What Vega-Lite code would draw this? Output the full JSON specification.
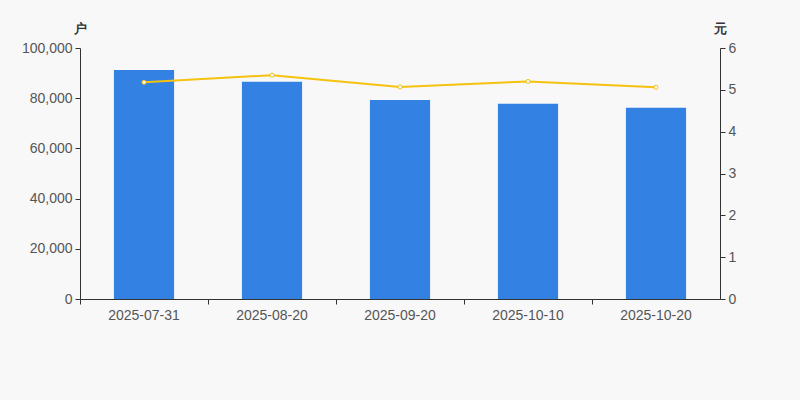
{
  "$schema": "https://vega.github.io/schema/vega-lite/v6.json",
  "width": 640,
  "height": 251,
  "autosize": "none",
  "padding": {"left": 80, "top": 48, "right": 80, "bottom": 101},
  "background": "#f8f8f8",
  "data": {
    "values": [
      {"date": "2025-07-31", "households": 91200, "price": 5.18},
      {"date": "2025-08-20", "households": 86600, "price": 5.35},
      {"date": "2025-09-20", "households": 79300, "price": 5.07},
      {"date": "2025-10-10", "households": 77800, "price": 5.20},
      {"date": "2025-10-20", "households": 76200, "price": 5.06}
    ]
  },
  "encoding": {
    "x": {
      "field": "date",
      "type": "nominal",
      "sort": null,
      "scale": {"paddingInner": 0, "paddingOuter": 0},
      "axis": {
        "title": null,
        "labelAngle": 0,
        "bandPosition": 0,
        "labelPadding": 4,
        "tickSize": 5,
        "domainColor": "#333",
        "tickColor": "#333",
        "labelColor": "#555",
        "labelFontSize": 14
      }
    }
  },
  "layer": [
    {
      "mark": {"type": "bar", "width": {"band": 0.47}, "color": "#3381e3"},
      "encoding": {
        "y": {
          "field": "households",
          "type": "quantitative",
          "scale": {"domain": [0, 100000]},
          "axis": {
            "title": "户",
            "titleAngle": 0,
            "titleX": 0,
            "titleY": -20,
            "titleAlign": "center",
            "titleBaseline": "middle",
            "titleFontSize": 13,
            "titleColor": "#333",
            "values": [0, 20000, 40000, 60000, 80000, 100000],
            "format": ",d",
            "grid": false,
            "tickSize": 5,
            "domainColor": "#333",
            "tickColor": "#333",
            "labelColor": "#555",
            "labelFontSize": 14,
            "labelPadding": 3
          }
        }
      }
    },
    {
      "mark": {
        "type": "line",
        "color": "#f5c20f",
        "strokeWidth": 2,
        "point": {"filled": true, "fill": "#ffffff", "stroke": "#f5c20f", "strokeWidth": 1, "size": 16}
      },
      "encoding": {
        "y": {
          "field": "price",
          "type": "quantitative",
          "scale": {"domain": [0, 6]},
          "axis": {
            "orient": "right",
            "title": "元",
            "titleAngle": 0,
            "titleX": 0,
            "titleY": -20,
            "titleAlign": "center",
            "titleBaseline": "middle",
            "titleFontSize": 13,
            "titleColor": "#333",
            "values": [0, 1, 2, 3, 4, 5, 6],
            "grid": false,
            "tickSize": 5,
            "domainColor": "#333",
            "tickColor": "#333",
            "labelColor": "#555",
            "labelFontSize": 14,
            "labelPadding": 3
          }
        }
      }
    }
  ],
  "resolve": {"scale": {"y": "independent"}},
  "config": {
    "view": {"stroke": null},
    "font": "Liberation Sans",
    "axis": {"labelFont": "Liberation Sans", "titleFont": "Liberation Sans"}
  }
}
